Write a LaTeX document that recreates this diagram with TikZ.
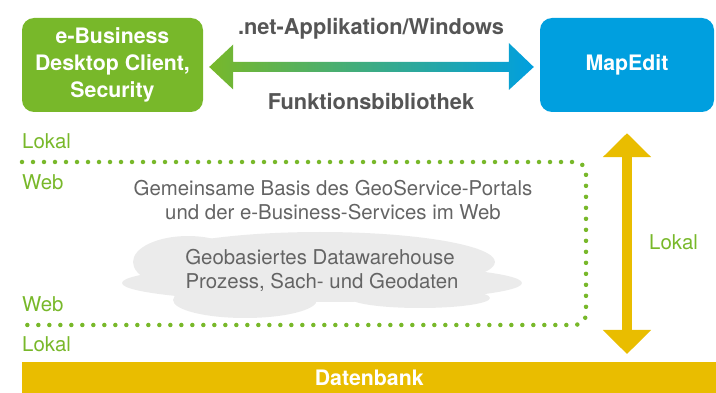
\documentclass[tikz,border=0pt]{standalone}
\usepackage{fontspec}
\setmainfont{TeX Gyre Heros}
\usetikzlibrary{arrows.meta,calc}
\definecolor{ebgreen}{RGB}{120,184,42}
\definecolor{meblue}{RGB}{0,159,223}
\definecolor{meteal}{RGB}{0,168,140}
\definecolor{dbyellow}{RGB}{233,189,0}
\definecolor{lbldark}{RGB}{85,85,85}
\definecolor{txtgray}{RGB}{100,100,100}
\definecolor{cloudgray}{RGB}{235,235,235}
\newcommand\dgbold{\fontsize{21.3}{27}\selectfont\bfseries}
\newcommand\dglbl{\fontsize{21.8}{27}\selectfont\bfseries}
\newcommand\dgreg{\fontsize{20.4}{24}\selectfont}
\tikzset{
  box/.style={rounded corners=12pt, inner sep=0pt, text=white, align=center, font=\dgbold},
  lbl/.style={inner sep=0pt, text=lbldark, font=\dglbl, anchor=base},
  regtxt/.style={inner sep=0pt, text=txtgray, font=\dgreg, anchor=base},
  zone/.style={inner sep=0pt, text=ebgreen, font=\dgreg, anchor=base west},
  dotline/.style={draw=ebgreen, line width=4.5pt, line cap=round, dash pattern=on 0pt off 11pt, rounded corners=11pt},
  yarrow/.style={draw=dbyellow, line width=10pt, {Triangle[length=24pt,width=47pt]}-{Triangle[length=24pt,width=47pt]}}
}
\begin{document}
\begin{tikzpicture}[x=1pt,y=-1pt]
\useasboundingbox (0,0) rectangle (716,393);

% boxes
\node[box, fill=ebgreen, minimum width=181pt, minimum height=94pt] (ebiz) at (112.5,65) {e-Business\\Desktop Client,\\Security};
\node[box, fill=meblue, minimum width=174pt, minimum height=94pt] (mapedit) at (627,65) {MapEdit};

% gradient double arrow
\coordinate (al) at ($(ebiz.east)+(6,2)$);
\coordinate (ar) at ($(mapedit.west)+(-6,2)$);
\shade[left color=ebgreen, middle color=meteal, right color=meblue]
  (al) -- ++(24,-22.5) -- ++(0,17.5) -- ($(ar)+(-25,-5)$) -- ++(0,-19) -- (ar)
  -- ++(-25,23) -- ++(0,-18) -- ($(al)+(24,5)$) -- ++(0,17.5) -- cycle;
\node[lbl] (toplbl) at (371,35) {.net-Applikation/Windows};
\node[lbl] (botlbl) at (371,110) {Funktionsbibliothek};

% zone labels
\node[zone] (lokal1) at (22,149) {Lokal};
\node[zone] (web1) at (22,190) {Web};
\node[zone] (web2) at (22,312) {Web};
\node[zone] (lokal2) at (22,352) {Lokal};

% dotted web border
\coordinate (d1) at (22,162);
\coordinate (d2) at (586,325);
\coordinate (d3) at (22,325);
\draw[dotline] (d1) -| (d2) -- (d3);

% cloud
\fill[cloudgray] (320,262) ellipse [x radius=175pt, y radius=30pt];
\fill[cloudgray] (322,283) ellipse [x radius=200pt, y radius=19pt];
\fill[cloudgray] (245,300) ellipse [x radius=72pt, y radius=18pt];
\fill[cloudgray] (188,262) ellipse [x radius=55pt, y radius=26pt];
\fill[cloudgray] (420,298) ellipse [x radius=70pt, y radius=10pt];

\node[regtxt] (basis1) at (333,196) {Gemeinsame Basis des GeoService-Portals};
\node[regtxt] (basis2) at (333,220) {und der e-Business-Services im Web};
\node[regtxt] (dw1) at (320,265) {Geobasiertes Datawarehouse};
\node[regtxt] (dw2) at (322,289) {Prozess, Sach- und Geodaten};

% Datenbank bar
\node[fill=dbyellow, minimum width=694pt, minimum height=31pt, anchor=north west, inner sep=0pt, text=white, font=\dgbold] (db) at (22,362) {Datenbank};

% yellow vertical arrow
\coordinate (ytop) at ($(mapedit.south)+(0,21)$);
\coordinate (ybot) at ($(db.north -| mapedit.south)+(0,-8)$);
\draw[yarrow] (ytop) -- (ybot);
\node[zone] (lokal3) at (649,250) {Lokal};
\end{tikzpicture}
\end{document}
